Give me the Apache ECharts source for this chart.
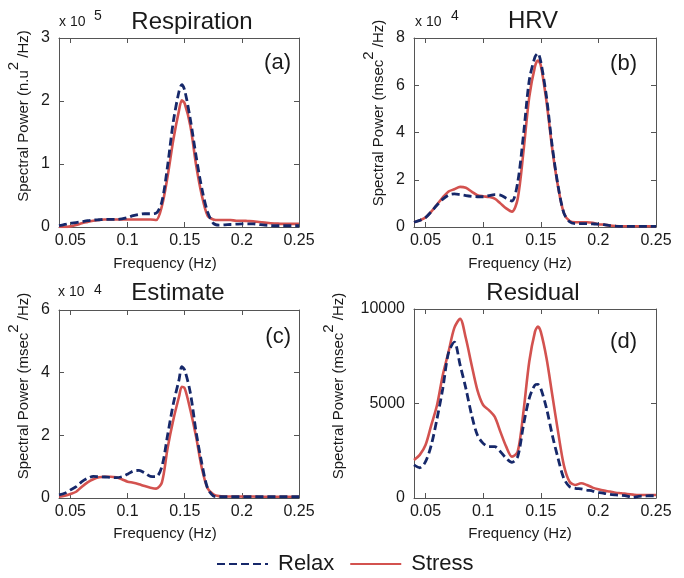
<!DOCTYPE html>
<html><head><meta charset="utf-8">
<script src="https://cdn.jsdelivr.net/npm/echarts@6/dist/echarts.min.js"></script>
<style>html,body{margin:0;padding:0;background:#fff}#c{width:684px;height:578px}</style>
</head><body><div id="c"></div>
<script>
// Frequency samples (Hz)
const freq = [0.04,0.045,0.05,0.055,0.06,0.065,0.07,0.075,0.08,0.085,0.09,0.095,0.1,0.105,0.11,0.115,0.12,0.125,0.13,0.135,0.14,0.145,0.1475,0.15,0.155,0.16,0.165,0.17,0.175,0.18,0.185,0.19,0.195,0.2,0.205,0.21,0.215,0.22,0.225,0.23,0.235,0.24,0.245,0.25];

// (a) Respiration, units x 10^5
const respRelax  = [0.02,0.04,0.06,0.07,0.085,0.1,0.11,0.115,0.12,0.12,0.12,0.13,0.15,0.18,0.2,0.21,0.21,0.22,0.4,0.97,1.67,2.15,2.26,2.17,1.7,1.12,0.61,0.24,0.06,0.03,0.035,0.04,0.045,0.05,0.05,0.05,0.04,0.03,0.025,0.02,0.02,0.02,0.02,0.02];
const respStress = [0.0,0.0,0.01,0.03,0.06,0.08,0.1,0.11,0.12,0.12,0.12,0.12,0.12,0.12,0.12,0.12,0.12,0.11,0.33,0.8,1.38,1.85,2.01,1.96,1.6,0.98,0.5,0.18,0.12,0.11,0.11,0.11,0.1,0.1,0.095,0.09,0.08,0.07,0.06,0.055,0.05,0.05,0.05,0.05];

// (b) HRV, units x 10^4
const hrvRelax  = [0.2,0.28,0.4,0.65,0.93,1.18,1.35,1.4,1.37,1.33,1.3,1.28,1.28,1.33,1.37,1.35,1.22,1.1,1.9,3.9,6.2,7.2,7.35,7.0,5.5,3.4,1.75,0.6,0.22,0.14,0.14,0.14,0.13,0.12,0.1,0.06,0.04,0.03,0.03,0.03,0.03,0.03,0.03,0.03];
const hrvStress = [0.2,0.28,0.4,0.65,0.95,1.25,1.5,1.6,1.7,1.66,1.5,1.35,1.3,1.27,1.2,1.0,0.79,0.65,1.2,3.2,5.5,6.8,7.05,6.85,5.3,3.3,1.7,0.6,0.25,0.2,0.2,0.2,0.18,0.12,0.1,0.06,0.04,0.03,0.03,0.03,0.03,0.03,0.03,0.03];

// (c) Estimate, units x 10^4
const estRelax  = [0.1,0.15,0.26,0.36,0.52,0.63,0.69,0.68,0.67,0.66,0.65,0.68,0.76,0.86,0.88,0.8,0.69,0.68,1.0,2.0,3.0,3.77,4.19,4.08,3.34,2.1,1.1,0.31,0.07,0.04,0.04,0.04,0.04,0.04,0.04,0.04,0.04,0.04,0.04,0.04,0.04,0.04,0.04,0.04];
const estStress = [0.04,0.07,0.13,0.2,0.36,0.5,0.6,0.66,0.68,0.68,0.66,0.6,0.52,0.49,0.44,0.38,0.33,0.3,0.49,1.59,2.49,3.23,3.55,3.5,2.8,1.95,0.95,0.31,0.12,0.06,0.05,0.05,0.05,0.05,0.05,0.05,0.04,0.04,0.04,0.04,0.04,0.04,0.04,0.04];

// (d) Residual
const resRelax  = [1750,1600,1920,2800,4200,5800,7700,8250,7040,5800,4390,3330,2890,2720,2720,2450,2100,1890,2190,3860,5270,5980,6010,5800,4740,3330,2100,1040,600,510,480,420,370,300,250,190,160,140,100,30,90,100,120,120];
const resStress = [2010,2280,2800,3860,4920,6510,7740,9000,9480,8450,7040,5710,4920,4650,4300,3500,2720,2190,2450,4570,7210,8800,9070,8800,7390,5450,3510,1750,860,690,780,690,550,460,390,340,280,250,210,180,160,160,160,160];

const xTicks = [0.05,0.1,0.15,0.2,0.25];
const titles = ['Respiration','HRV','Estimate','Residual'];
const tags = ['(a)','(b)','(c)','(d)'];
const yMax = [3, 8, 6, 10000];
const yStep = [1, 2, 2, 5000];
const yExp = ['5','4','4',null];
const yUnit = ['n.u','msec','msec','msec'];
const relaxData = [respRelax, hrvRelax, estRelax, resRelax];
const stressData = [respStress, hrvStress, estStress, resStress];

const FONT = '"Liberation Sans", Arial, sans-serif';
const TXT = '#1a1a1a';
const AX = '#555';
const RELAX_C = '#16286a';
const STRESS_C = '#d3524f';

const grids = [
  {left:59, top:38, width:240, height:189},
  {left:414, top:38, width:242, height:189},
  {left:59, top:310, width:240, height:188},
  {left:414, top:309, width:242, height:189}
];
const titlePos = [[192,22],[533,21],[178,293],[533,293]];
const expPos = [[59,22.5,94,16],[415,22,451,16],[58,292.5,94,290],null];
const tagPos = [[291,63],[637,64],[291,337],[637,342]];
const yNamePos = [[24,116],[379,113],[24,386],[339,386]];
const xNamePos = [[165,264],[520,264],[165,534],[520,534]];

const xAxes = [], yAxes = [], series = [], graphics = [];
const fmt = v => String(+(+v).toFixed(2));
const yfmt = v => String(v);
grids.forEach((g, i) => {
  [ 'bottom', 'top' ].forEach(pos => {
    xAxes.push({
      type:'value', gridIndex:i, position:pos, min:0.04, max:0.25,
      axisLine:{show:true, onZero:false, lineStyle:{color:AX, width:1}},
      axisTick:{show:true, inside:true, length:5, customValues:xTicks, lineStyle:{color:AX}},
      axisLabel:{show:pos==='bottom', customValues:xTicks, formatter:fmt, fontSize:16, color:TXT, margin:6, fontFamily:FONT},
      splitLine:{show:false}
    });
  });
  [ 'left', 'right' ].forEach(pos => {
    yAxes.push({
      type:'value', gridIndex:i, position:pos, min:0, max:yMax[i], interval:yStep[i],
      axisLine:{show:true, onZero:false, lineStyle:{color:AX, width:1}},
      axisTick:{show:true, inside:true, length:5, lineStyle:{color:AX}},
      axisLabel:{show:pos==='left', formatter:yfmt, fontSize:16, color:TXT, margin:9, fontFamily:FONT},
      splitLine:{show:false}
    });
  });
  series.push({
    name:'Stress', type:'line', xAxisIndex:2*i, yAxisIndex:2*i, symbol:'none', smooth:0.3,
    data: freq.map((f,k)=>[f, stressData[i][k]]),
    lineStyle:{color:STRESS_C, width:2.6}, itemStyle:{color:STRESS_C}, z:2
  });
  series.push({
    name:'Relax', type:'line', xAxisIndex:2*i, yAxisIndex:2*i, symbol:'none', smooth:0.3,
    data: freq.map((f,k)=>[f, relaxData[i][k]]),
    lineStyle:{color:RELAX_C, width:2.8, type:[8,4]}, itemStyle:{color:RELAX_C}, z:3
  });
  graphics.push({type:'text', x:titlePos[i][0], y:titlePos[i][1],
    style:{text:titles[i], fontSize:24, fontFamily:FONT, fill:TXT, align:'center', verticalAlign:'middle'}});
  graphics.push({type:'text', x:tagPos[i][0], y:tagPos[i][1],
    style:{text:tags[i], fontSize:22, fontFamily:FONT, fill:TXT, align:'right', verticalAlign:'middle'}});
  if (expPos[i]) {
    graphics.push({type:'text', x:expPos[i][0], y:expPos[i][1],
      style:{text:'x 10', fontSize:14, fontFamily:FONT, fill:TXT, align:'left', verticalAlign:'middle'}});
    graphics.push({type:'text', x:expPos[i][2], y:expPos[i][3],
      style:{text:yExp[i], fontSize:14, fontFamily:FONT, fill:TXT, align:'left', verticalAlign:'middle'}});
  }
  graphics.push({type:'text', x:yNamePos[i][0], y:yNamePos[i][1], rotation:Math.PI/2,
    style:{text:'{m|Spectral Power (' + yUnit[i] + '}{s|2}{m| /Hz)}', fill:TXT, align:'center', verticalAlign:'middle',
      rich:{ m:{fontSize:15, fontFamily:FONT, fill:TXT, lineHeight:35, verticalAlign:'middle'},
             s:{fontSize:15, fontFamily:FONT, fill:TXT, lineHeight:15, verticalAlign:'top'} }}});
  graphics.push({type:'text', x:xNamePos[i][0], y:xNamePos[i][1],
    style:{text:'Frequency (Hz)', fontSize:15, fontFamily:FONT, fill:TXT, align:'center', verticalAlign:'middle'}});
});

const chart = echarts.init(document.getElementById('c'), null, {renderer:'canvas'});
chart.setOption({
  animation:false,
  backgroundColor:'#fff',
  grid: grids.map(g => Object.assign({containLabel:false}, g)),
  xAxis: xAxes,
  yAxis: yAxes,
  legend:{data:['Relax','Stress'], left:216, top:553, padding:0, itemWidth:51, itemHeight:14, itemGap:15,
    itemStyle:{opacity:0, color:'transparent', borderWidth:0},
    textStyle:{fontSize:22, color:TXT, fontFamily:FONT, padding:[0,0,0,5]}},
  series: series,
  graphic: graphics
});
</script></body></html>
